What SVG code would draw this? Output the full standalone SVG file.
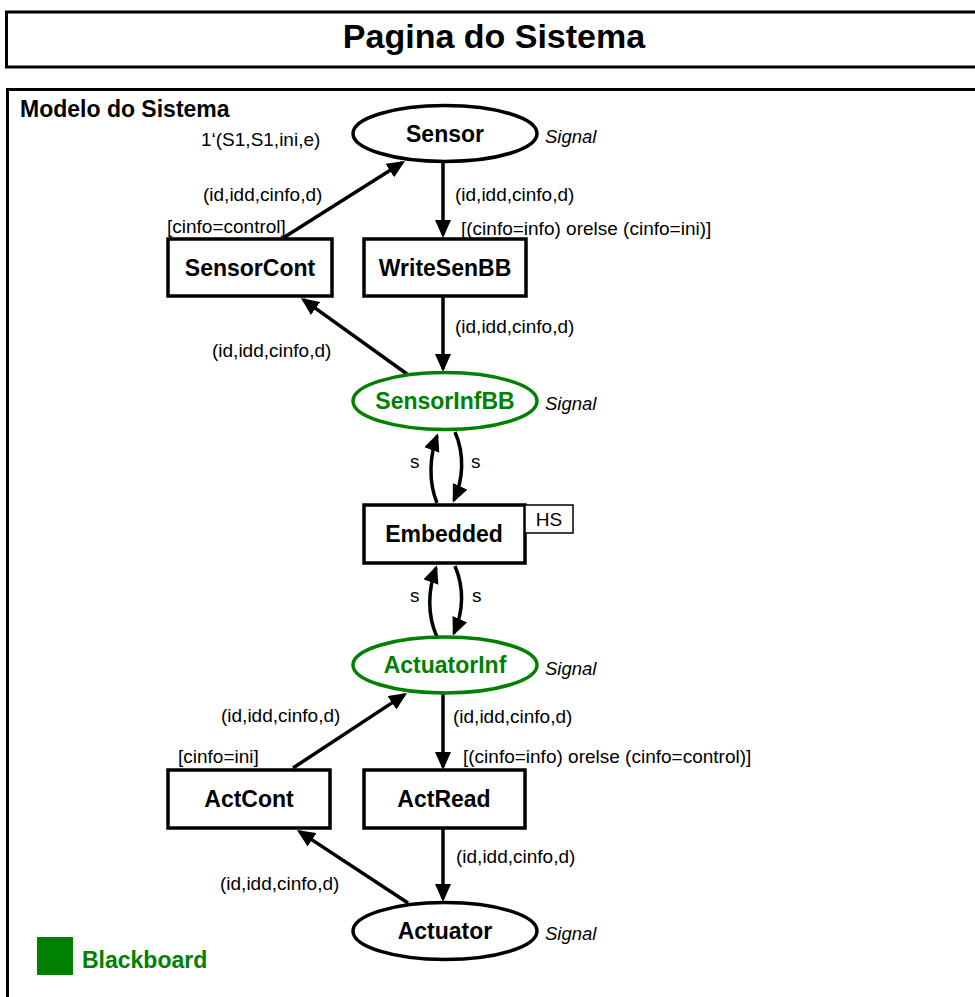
<svg xmlns="http://www.w3.org/2000/svg" width="975" height="997" viewBox="0 0 975 997">
  <style>
    .frame { fill: #fff; stroke: #000; stroke-width: 3; }
    .place { fill: #fff; stroke: #000; stroke-width: 3.5; }
    .place.bb { stroke: #008000; }
    .trans { fill: #fff; stroke: #000; stroke-width: 3.5; }
    .hs { fill: #fff; stroke: #000; stroke-width: 1.5; }
    .name { font-family: "Liberation Sans", Arial, sans-serif; font-weight: bold; font-size: 23px; text-anchor: middle; fill: #000; }
    .name.bb { fill: #008000; }
    .lbl { font-family: "Liberation Sans", Arial, sans-serif; font-size: 19px; fill: #000; }
    .type { font-family: "Liberation Sans", Arial, sans-serif; font-style: italic; font-size: 18.5px; fill: #000; }
    .arc { fill: none; stroke: #000; stroke-width: 3.5; marker-end: url(#head); }
  </style>
  <defs>
    <marker id="head" viewBox="0 0 18 16" refX="15" refY="8" markerWidth="18" markerHeight="16" markerUnits="userSpaceOnUse" orient="auto">
      <path d="M0,0 L18,8 L0,16 z" fill="#000"/>
    </marker>
  </defs>

  <rect width="975" height="997" fill="#fff"/>

  <!-- page header -->
  <g id="header">
    <rect class="frame" x="6.5" y="12" width="1000" height="55"/>
    <text x="494" y="48" font-family="Liberation Sans, Arial, sans-serif" font-weight="bold" font-size="34" text-anchor="middle">Pagina do Sistema</text>
  </g>

  <!-- model frame -->
  <g id="model">
    <rect class="frame" x="7.5" y="89.5" width="1000" height="1000"/>
    <text x="20" y="117" font-family="Liberation Sans, Arial, sans-serif" font-weight="bold" font-size="23">Modelo do Sistema</text>
  </g>

  <!-- connectors -->
  <g id="arcs">
    <path class="arc" d="M283,238 L402.5,162.6"/>
    <path class="arc" d="M443,163 L443,235"/>
    <path class="arc" d="M443,297 L443,369"/>
    <path class="arc" d="M407,374 L303.4,299.7"/>
    <path class="arc" d="M437,503 C428,481 430,455 437,436"/>
    <path class="arc" d="M455,432 C465,455 463,480 454,500"/>
    <path class="arc" d="M437,637 C427,615 428,590 436,568"/>
    <path class="arc" d="M455,566 C465,590 463,612 454,633"/>
    <path class="arc" d="M293,768 L404.5,694.6"/>
    <path class="arc" d="M443,694 L443,767"/>
    <path class="arc" d="M443,829 L443,899"/>
    <path class="arc" d="M408,903 L299.5,831.6"/>

    <text class="lbl" x="201" y="146">1‘(S1,S1,ini,e)</text>
    <text class="lbl" x="203" y="201">(id,idd,cinfo,d)</text>
    <text class="lbl" x="167" y="233">[cinfo=control]</text>
    <text class="lbl" x="455" y="201">(id,idd,cinfo,d)</text>
    <text class="lbl" x="461" y="235">[(cinfo=info) orelse (cinfo=ini)]</text>
    <text class="lbl" x="455" y="333">(id,idd,cinfo,d)</text>
    <text class="lbl" x="212" y="357">(id,idd,cinfo,d)</text>
    <text class="lbl" x="410" y="468">s</text>
    <text class="lbl" x="471" y="468">s</text>
    <text class="lbl" x="410" y="602">s</text>
    <text class="lbl" x="472" y="602">s</text>
    <text class="lbl" x="221" y="722">(id,idd,cinfo,d)</text>
    <text class="lbl" x="453" y="723">(id,idd,cinfo,d)</text>
    <text class="lbl" x="178" y="763">[cinfo=ini]</text>
    <text class="lbl" x="463" y="763">[(cinfo=info) orelse (cinfo=control)]</text>
    <text class="lbl" x="456" y="863">(id,idd,cinfo,d)</text>
    <text class="lbl" x="220" y="890">(id,idd,cinfo,d)</text>
  </g>

  <!-- places -->
  <g id="Sensor">
    <ellipse class="place" cx="445" cy="133.5" rx="92" ry="28"/>
    <text class="name" x="445" y="142">Sensor</text>
    <text class="type" x="545" y="143">Signal</text>
  </g>
  <g id="SensorInfBB">
    <ellipse class="place bb" cx="445" cy="401" rx="92" ry="28.5"/>
    <text class="name bb" x="445" y="409">SensorInfBB</text>
    <text class="type" x="545" y="410">Signal</text>
  </g>
  <g id="ActuatorInf">
    <ellipse class="place bb" cx="445" cy="665" rx="92" ry="28"/>
    <text class="name bb" x="445" y="673">ActuatorInf</text>
    <text class="type" x="545" y="675">Signal</text>
  </g>
  <g id="Actuator">
    <ellipse class="place" cx="445" cy="931" rx="92" ry="28.5"/>
    <text class="name" x="445" y="939">Actuator</text>
    <text class="type" x="545" y="940">Signal</text>
  </g>

  <!-- transitions -->
  <g id="SensorCont">
    <rect class="trans" x="168" y="239" width="164" height="57"/>
    <text class="name" x="250" y="276">SensorCont</text>
  </g>
  <g id="WriteSenBB">
    <rect class="trans" x="364" y="239" width="162" height="57"/>
    <text class="name" x="445" y="276">WriteSenBB</text>
  </g>
  <g id="Embedded">
    <rect class="trans" x="364" y="505" width="161" height="58"/>
    <rect class="hs" x="525" y="505" width="48" height="28"/>
    <text class="lbl" x="549" y="526" text-anchor="middle">HS</text>
    <text class="name" x="444" y="542">Embedded</text>
  </g>
  <g id="ActCont">
    <rect class="trans" x="168" y="770" width="162" height="58"/>
    <text class="name" x="249" y="807">ActCont</text>
  </g>
  <g id="ActRead">
    <rect class="trans" x="364" y="770" width="161" height="58"/>
    <text class="name" x="444" y="807">ActRead</text>
  </g>

  <!-- legend -->
  <g id="legend">
    <rect x="37" y="937" width="36" height="38" fill="#008000"/>
    <text x="82" y="968" font-family="Liberation Sans, Arial, sans-serif" font-weight="bold" font-size="23" fill="#008000">Blackboard</text>
  </g>
</svg>
